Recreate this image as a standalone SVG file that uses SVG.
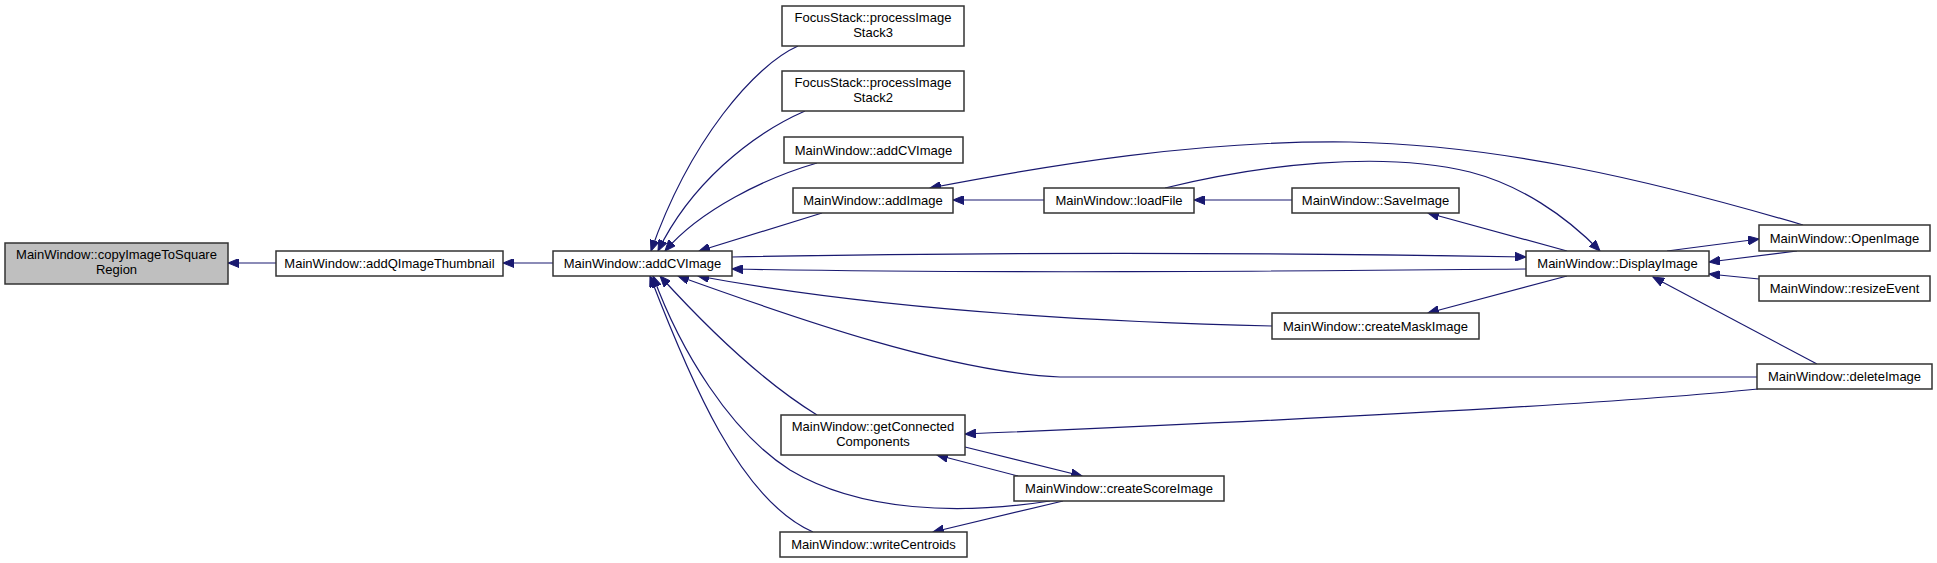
<svg xmlns="http://www.w3.org/2000/svg" width="1937" height="563" viewBox="0 0 1937 563">
<defs>
<marker id="arr" markerUnits="userSpaceOnUse" markerWidth="12" markerHeight="9" refX="11" refY="4.5" orient="auto">
<path d="M0,0 L11,4.5 L0,9 z" fill="#191970" stroke="#191970" stroke-width="1"/>
</marker>
</defs>
<style>
.box{fill:#ffffff;stroke:#333333;stroke-width:1.5}
.root{fill:#bfbfbf;stroke:#333333;stroke-width:1.5}
text{font-family:"Liberation Sans",Arial,sans-serif;font-size:13px;fill:#000000;text-anchor:middle}
.e{fill:none;stroke:#191970;stroke-width:1.2;marker-end:url(#arr)}
</style>
<rect width="1937" height="563" fill="#ffffff"/>
<g id="connectors">
<path class="e" d="M276,263 L228,263"/>
<path class="e" d="M553,263 L503,263"/>
<path class="e" d="M798,46 C755,65 690,140 651,251"/>
<path class="e" d="M805,111 C750,135 690,185 658,251"/>
<path class="e" d="M817,163 C765,178 700,210 665,251"/>
<path class="e" d="M822,213 L699,251"/>
<path class="e" d="M732,257 C1000,252 1300,253 1526,257"/>
<path class="e" d="M1526,269 C1300,271 1000,274 732,269"/>
<path class="e" d="M1044,200 L953,200"/>
<path class="e" d="M1292,200 L1194,200"/>
<path class="e" d="M1165,188 C1260,165 1380,150 1470,172 C1520,185 1565,215 1600,251"/>
<path class="e" d="M1803,225 C1650,180 1500,145 1350,142 C1200,140 1050,165 930,188"/>
<path class="e" d="M1567,251 L1428,213"/>
<path class="e" d="M1567,276 L1428,313"/>
<path class="e" d="M1272,326 C1100,322 880,310 698,276"/>
<path class="e" d="M1757,377 C1400,377 1150,378 1060,377 C950,372 800,320 678,276"/>
<path class="e" d="M1758,389 C1600,405 1300,420 965,434"/>
<path class="e" d="M1667,251 L1759,239"/>
<path class="e" d="M1797,251 L1709,262"/>
<path class="e" d="M1759,279 L1709,274"/>
<path class="e" d="M1817,364 L1653,277"/>
<path class="e" d="M817,415 C760,380 700,320 660,276"/>
<path class="e" d="M813,532 C740,500 690,380 650,276"/>
<path class="e" d="M1050,501 C960,515 860,512 790,470 C730,432 680,350 653,276"/>
<path class="e" d="M965,447 L1082,476"/>
<path class="e" d="M1018,476 L937,455"/>
<path class="e" d="M1063,501 L933,532"/>
</g>
<g id="n_copy"><rect class="root" x="5" y="243" width="223" height="41"/><text x="116.5" y="259">MainWindow::copyImageToSquare</text><text x="116.5" y="274">Region</text></g>
<g id="n_addQ"><rect class="box" x="276" y="251" width="227" height="25"/><text x="389.5" y="268">MainWindow::addQImageThumbnail</text></g>
<g id="n_addCV"><rect class="box" x="553" y="251" width="179" height="25"/><text x="642.5" y="268">MainWindow::addCVImage</text></g>
<g id="n_stack3"><rect class="box" x="782" y="6" width="182" height="40"/><text x="873" y="22">FocusStack::processImage</text><text x="873" y="37">Stack3</text></g>
<g id="n_stack2"><rect class="box" x="782" y="71" width="182" height="40"/><text x="873" y="87">FocusStack::processImage</text><text x="873" y="102">Stack2</text></g>
<g id="n_addCV2"><rect class="box" x="784" y="137" width="179" height="26"/><text x="873.5" y="154.5">MainWindow::addCVImage</text></g>
<g id="n_addImage"><rect class="box" x="793" y="188" width="160" height="25"/><text x="873" y="205">MainWindow::addImage</text></g>
<g id="n_loadFile"><rect class="box" x="1044" y="188" width="150" height="25"/><text x="1119" y="205">MainWindow::loadFile</text></g>
<g id="n_save"><rect class="box" x="1292" y="188" width="167" height="25"/><text x="1375.5" y="205">MainWindow::SaveImage</text></g>
<g id="n_mask"><rect class="box" x="1272" y="313" width="207" height="26"/><text x="1375.5" y="330.5">MainWindow::createMaskImage</text></g>
<g id="n_display"><rect class="box" x="1526" y="251" width="183" height="25"/><text x="1617.5" y="268">MainWindow::DisplayImage</text></g>
<g id="n_open"><rect class="box" x="1759" y="225" width="171" height="26"/><text x="1844.5" y="242.5">MainWindow::OpenImage</text></g>
<g id="n_resize"><rect class="box" x="1759" y="276" width="171" height="25"/><text x="1844.5" y="293">MainWindow::resizeEvent</text></g>
<g id="n_delete"><rect class="box" x="1757" y="364" width="175" height="25"/><text x="1844.5" y="381">MainWindow::deleteImage</text></g>
<g id="n_getconn"><rect class="box" x="781" y="415" width="184" height="40"/><text x="873" y="431">MainWindow::getConnected</text><text x="873" y="446">Components</text></g>
<g id="n_score"><rect class="box" x="1014" y="476" width="210" height="25"/><text x="1119" y="493">MainWindow::createScoreImage</text></g>
<g id="n_write"><rect class="box" x="780" y="532" width="187" height="25"/><text x="873.5" y="549">MainWindow::writeCentroids</text></g>
</svg>
